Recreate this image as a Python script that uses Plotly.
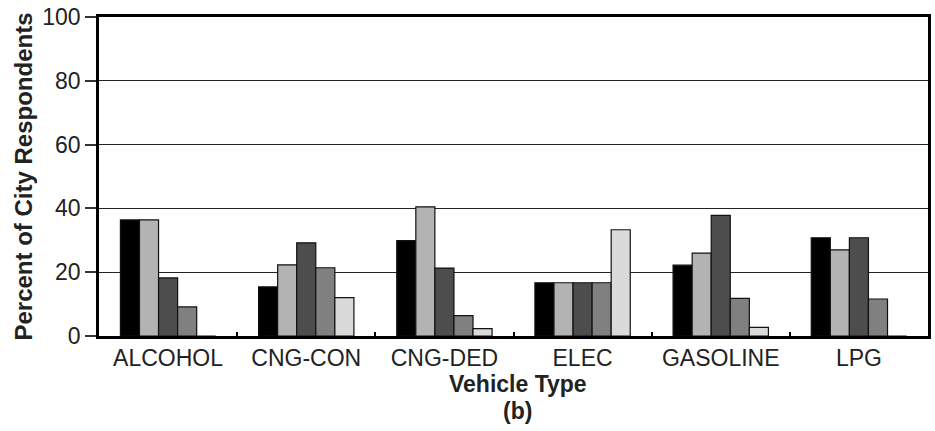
import plotly.graph_objects as go

# Survey shares by vehicle type, five response series per category
vehicle_types = ["ALCOHOL", "CNG-CON", "CNG-DED", "ELEC", "GASOLINE", "LPG"]

series_1 = [36.4, 15.4, 29.9, 16.7, 22.2, 30.8]
series_2 = [36.4, 22.3, 40.5, 16.7, 26.0, 27.0]
series_3 = [18.2, 29.2, 21.3, 16.7, 37.8, 30.8]
series_4 = [9.1, 21.4, 6.4, 16.7, 11.8, 11.6]
series_5 = [0.0, 12.0, 2.3, 33.3, 2.7, 0.0]

series_names = ["Series 1", "Series 2", "Series 3", "Series 4", "Series 5"]
series_values = [series_1, series_2, series_3, series_4, series_5]
series_colors = ["#000000", "#b3b3b3", "#4d4d4d", "#808080", "#dadada"]

FONT = "Liberation Sans, Arial, sans-serif"
TEXT_COLOR = "#222222"

fig = go.Figure()
for name, vals, color in zip(series_names, series_values, series_colors):
    fig.add_trace(go.Bar(
        x=vehicle_types,
        y=vals,
        name=name,
        marker=dict(color=color, line=dict(color="#111111", width=1.2)),
    ))

fig.update_layout(
    width=935,
    height=431,
    margin=dict(l=99, r=4, t=17, b=95),
    paper_bgcolor="white",
    plot_bgcolor="white",
    barmode="group",
    bargap=0.31,
    bargroupgap=0,
    showlegend=False,
    font=dict(family=FONT, size=23, color=TEXT_COLOR),
)

fig.update_xaxes(
    showline=True,
    linecolor="#000000",
    linewidth=2.5,
    mirror=True,
    ticks="inside",
    tickson="boundaries",
    ticklen=4,
    tickwidth=2,
    tickcolor="#000000",
    showgrid=False,
    tickfont=dict(family=FONT, size=23, color=TEXT_COLOR),
)

fig.update_yaxes(
    range=[0, 100],
    dtick=20,
    showline=True,
    linecolor="#000000",
    linewidth=2.5,
    mirror=True,
    ticks="outside",
    ticklen=11,
    tickwidth=1.5,
    tickcolor="#333333",
    showgrid=True,
    gridcolor="#222222",
    gridwidth=1.3,
    zeroline=False,
    tickfont=dict(family=FONT, size=23, color=TEXT_COLOR),
    title=dict(
        text="<b>Percent of City Respondents</b>",
        font=dict(family=FONT, size=24, color=TEXT_COLOR),
        standoff=3,
    ),
)

fig.add_annotation(
    text="<b>Vehicle Type</b>",
    xref="paper", yref="paper",
    x=0.506, y=-0.151,
    xanchor="center", yanchor="middle",
    showarrow=False,
    font=dict(family=FONT, size=23, color=TEXT_COLOR),
)
fig.add_annotation(
    text="<b>(b)</b>",
    xref="paper", yref="paper",
    x=0.5045, y=-0.235,
    xanchor="center", yanchor="middle",
    showarrow=False,
    font=dict(family=FONT, size=23, color=TEXT_COLOR),
)

fig.write_html("out.html")
